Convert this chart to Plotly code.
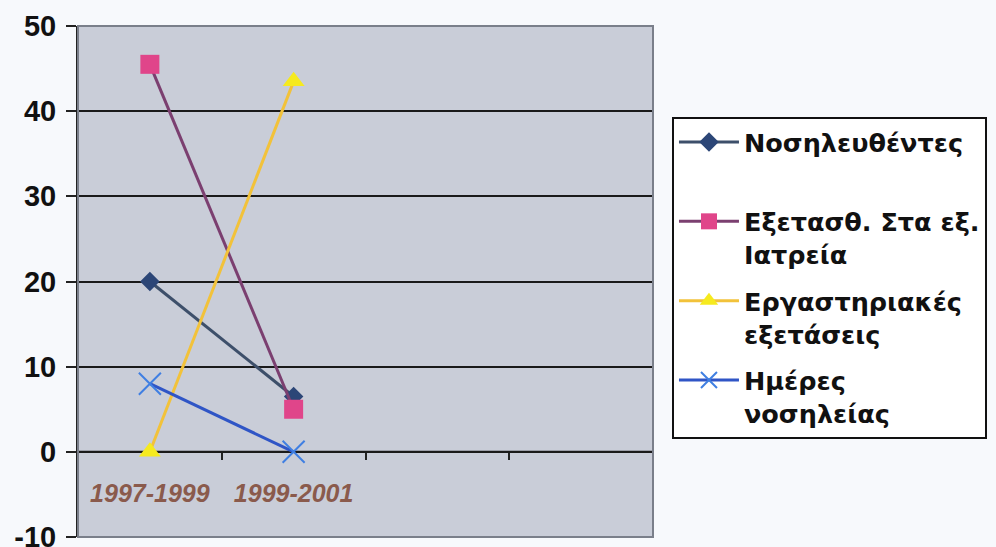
import plotly.graph_objects as go

# Periods on the category axis (two empty slots follow)
periods = ["1997-1999", "1999-2001"]
n_slots = 4

# Percent values per series
hospitalised = [20, 6.5]
outpatient = [45.5, 5]
lab_tests = [0, 43.5]
hospital_days = [8, 0]

y_ticks = [-10, 0, 10, 20, 30, 40, 50]

x_pos = list(range(len(periods)))

fig = go.Figure()

series = [
    ("Νοσηλευθέντες<br> ", hospitalised, "#3D4F6A", "#2C4677", "diamond", 15, None),
    ("Εξετασθ. Στα εξ.<br>Ιατρεία", outpatient, "#7B3F70", "#E0458A", "square", 19, None),
    ("Εργαστηριακές<br>εξετάσεις", lab_tests, "#F2C23A", "#F6EA1E", "triangle-up", 19, None),
    ("Ημέρες<br>νοσηλείας", hospital_days, "#2F55C6", "#3F7FE2", "x-thin-open", 22, 2),
]

for i, (name, vals, lc, mc, sym, size, mlw) in enumerate(series):
    marker = dict(symbol=sym, size=size, color=mc)
    if mlw:
        marker["line"] = dict(color=mc, width=mlw)
    else:
        marker["line"] = dict(width=0)
    label = "<br>".join(f"<b>{part}</b>" for part in name.split("<br>"))
    fig.add_trace(go.Scatter(
        x=x_pos, y=vals, name=label, mode="lines+markers",
        legendgroup=f"g{i}",
        line=dict(color=lc, width=3), marker=marker,
    ))

fig.update_layout(
    width=996, height=547,
    margin=dict(l=78, r=343, t=26, b=10, autoexpand=False),
    paper_bgcolor="#F7F9FC",
    plot_bgcolor="#C9CDD8",
    font=dict(family="Liberation Sans, Arial, sans-serif", color="#111111"),
    showlegend=True,
    legend=dict(
        x=1.033, y=0.822, xanchor="left", yanchor="top",
        bgcolor="#FFFFFF", bordercolor="#111111", borderwidth=2,
        font=dict(family="DejaVu Sans, Verdana, sans-serif", size=25.5, color="#111111"),
        valign="top", itemwidth=60, tracegroupgap=10,
    ),
    xaxis=dict(
        range=[-0.5, n_slots - 0.5],
        tickvals=x_pos, ticktext=[f"<b><i>{p}</i></b>" for p in periods],
        ticks="", showgrid=False, zeroline=False,
        showline=False, automargin=False,
        anchor="free", position=(0 - y_ticks[0]) / (y_ticks[-1] - y_ticks[0]),
        tickfont=dict(size=25, color="#8A5A4C"),
        ticklabelstandoff=24,
        minor=dict(tick0=0.5, dtick=1, ticks="outside", ticklen=7,
                   tickcolor="#222222", tickwidth=2, showgrid=False),
    ),
    yaxis=dict(
        range=[y_ticks[0], y_ticks[-1]],
        tickvals=y_ticks, ticktext=[f"<b>{v}</b>" for v in y_ticks],
        ticks="outside", ticklen=10, tickcolor="#222222", tickwidth=2,
        showgrid=True, gridcolor="#1A1A1A", gridwidth=1.5,
        zeroline=False, automargin=False,
        showline=True, linecolor="#222222", linewidth=2,
        tickfont=dict(size=29, color="#111111"),
        ticklabelstandoff=4,
        ticklabeloverflow="allow",
    ),
)

# Grey frame around the plotting area
fig.add_shape(type="rect", xref="paper", yref="paper", x0=0, y0=0, x1=1, y1=1,
              line=dict(color="#7A7F8A", width=2), layer="above")
# Black line at y = 0
fig.add_shape(type="line", xref="paper", yref="y", x0=0, x1=1, y0=0, y1=0,
              line=dict(color="#1A1A1A", width=2), layer="below")

fig.write_html("out.html")
